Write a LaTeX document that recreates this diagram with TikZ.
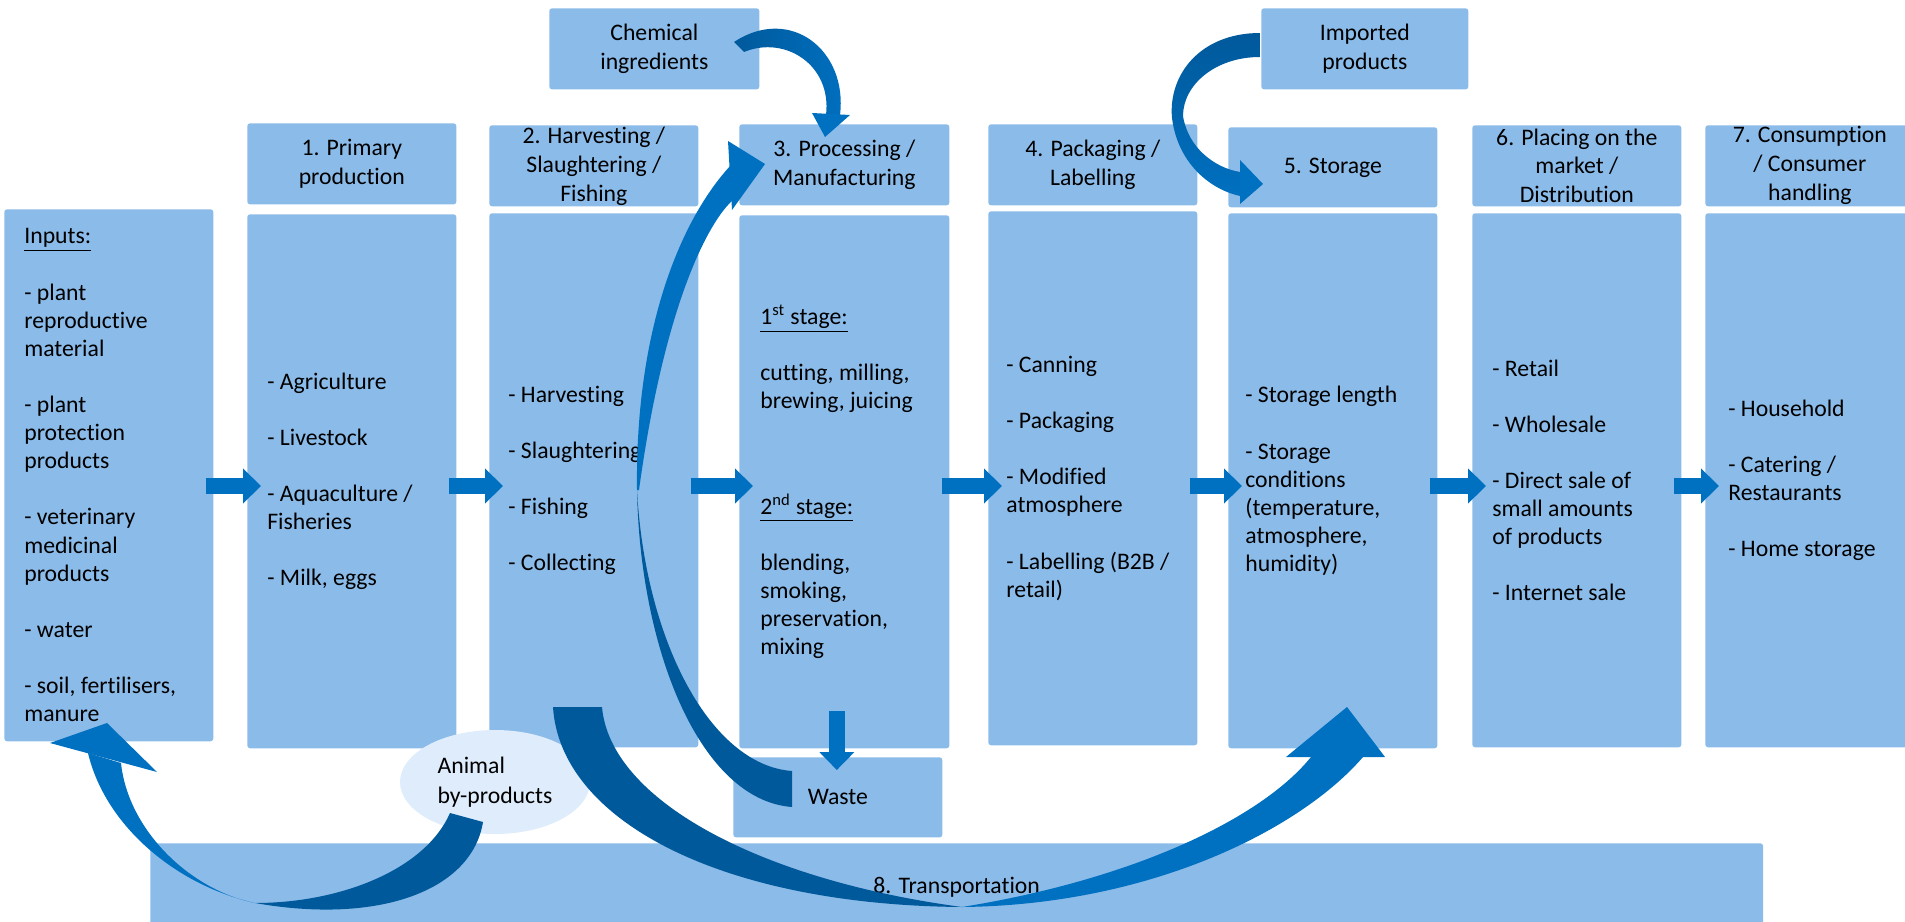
\documentclass[tikz,border=0pt]{standalone}
\usepackage{fontspec}
\setmainfont{Carlito}[Ligatures=NoCommon]
\usetikzlibrary{arrows.meta,calc,shapes.geometric}
\definecolor{boxblue}{RGB}{139,187,233}
\definecolor{palebox}{RGB}{222,236,251}
\definecolor{arrowdark}{RGB}{0,89,155}
\definecolor{arrowblue}{RGB}{0,112,192}
\tikzset{
    box/.style={fill=boxblue, rounded corners=1.5pt, anchor=north west, inner sep=0pt, align=center, font=\fontsize{13.5}{16.5}\selectfont},
    stagehead/.style={box, minimum width=4.18cm, minimum height=1.62cm},
    stagebody/.style={box, minimum width=4.18cm, minimum height=10.68cm},
    steplist/.style={anchor=west, inner sep=0pt, align=left, font=\fontsize{13.5}{16}\selectfont},
    flow/.style={arrowblue, line width=0.32cm, -{Triangle[width=0.68cm,length=0.36cm]}}
}

\begin{document}
\begin{tikzpicture}[x=0.02cm, y=-0.02cm]
    \useasboundingbox (0,0) rectangle (1905,922);
    
    \node [stagehead, minimum width=4.2cm] (chem) at (549,8) {Chemical\\ingredients};
    \node [stagehead, minimum width=4.14cm] (imp) at (1261,8) {Imported\\products};
    
    \node [stagehead] (h1) at (247,123) {1. Primary\\production};
    \node [stagehead] (h2) at (489,125) {2. Harvesting /\\Slaughtering /\\Fishing};
    \node [stagehead, minimum width=4.2cm] (h3) at (739,124) {3. Processing /\\Manufacturing};
    \node [stagehead] (h4) at (988,124) {4. Packaging /\\Labelling};
    \node [stagehead, minimum height=1.6cm] (h5) at (1228,127) {5. Storage};
    \node [stagehead] (h6) at (1472,125) {6. Placing on the\\market /\\Distribution};
    \node [stagehead] (h7) at (1705,125) {7. Consumption\\/ Consumer\\handling};
    
    \node [stagebody, minimum height=10.64cm] (in) at (4,209) {};
    \node [stagebody] (b1) at (247,214) {};
    \node [stagebody] (b2) at (489,213) {};
    \node [stagebody, minimum width=4.2cm, minimum height=10.66cm] (b3) at (739,215) {};
    \node [stagebody] (b4) at (988,211) {};
    \node [stagebody, minimum height=10.7cm] (b5) at (1228,213) {};
    \node [stagebody] (b6) at (1472,213) {};
    \node [stagebody] (b7) at (1705,213) {};
    \node [stagehead, minimum height=1.6cm] (waste) at (733,757) {Waste};
    \node [box, minimum width=32.26cm, minimum height=1.74cm] (trans) at (150,843) {8. Transportation};
    \node [ellipse, fill=palebox, minimum width=3.8cm, minimum height=2.08cm, inner sep=0pt, align=left, font=\fontsize{13.5}{17}\selectfont] (abp) at (495,782) {Animal\\by-products};
    
    \node [steplist] (tin) at ($(in.west)+(20,0)$) {\underline{Inputs:}\\[16pt] - plant\\reproductive\\material\\[16pt] - plant\\protection\\products\\[16pt] - veterinary\\medicinal\\products\\[16pt] - water\\[16pt] - soil, fertilisers,\\manure};
    \node [steplist] (t1) at ($(b1.west)+(20,0)$) {- Agriculture\\[16pt] - Livestock\\[16pt] - Aquaculture /\\Fisheries\\[16pt] - Milk, eggs};
    \node [steplist] (t2) at ($(b2.west)+(19,0)$) {- Harvesting\\[16pt] - Slaughtering\\[16pt] - Fishing\\[16pt] - Collecting};
    \node [steplist] (t3) at ($(b3.west)+(21,0)$) {\underline{1\textsuperscript{st} stage:}\\[16pt] cutting, milling,\\brewing, juicing\\[44pt] \underline{2\textsuperscript{nd} stage:}\\[16pt] blending,\\smoking,\\preservation,\\mixing};
    \node [steplist] (t4) at ($(b4.west)+(18,0)$) {- Canning\\[16pt] - Packaging\\[16pt] - Modified\\atmosphere\\[16pt] - Labelling (B2B /\\retail)};
    \node [steplist] (t5) at ($(b5.west)+(17,0)$) {- Storage length\\[16pt] - Storage\\conditions\\(temperature,\\atmosphere,\\humidity)};
    \node [steplist] (t6) at ($(b6.west)+(20,0)$) {- Retail\\[16pt] - Wholesale\\[16pt] - Direct sale of\\small amounts\\of products\\[16pt] - Internet sale};
    \node [steplist] (t7) at ($(b7.west)+(23,0)$) {- Household\\[16pt] - Catering /\\Restaurants\\[16pt] - Home storage};
    
    \coordinate (flowrow) at (0,486);
    \foreach \a/\b in {in/b1, b1/b2, b2/b3, b3/b4, b4/b5, b5/b6, b6/b7} {
        \draw [flow] ($(\a.east |- flowrow)+(-8,0)$) -- ($(\b.west |- flowrow)+(14,0)$);
    }
    \draw [flow] ($(waste.north)+(-1,-46)$) -- ($(waste.north)+(-1,13)$);
    
    \shade [left color=arrowdark, right color=arrowblue] (734,42) .. controls (790,5) and (848,50) .. (840,115) -- (826,115) .. controls (832,65) and (785,35) .. (744,52) -- cycle;
    \fill [arrowblue] (812,113) -- (850,115) -- (825,137) -- cycle;
    
    \shade [top color=arrowdark, bottom color=arrowblue] (1260,33) .. controls (1200,33) and (1168,75) .. (1172,118) .. controls (1178,165) and (1212,190) .. (1240,196) -- (1240,172) .. controls (1215,168) and (1188,148) .. (1183,116) .. controls (1183,85) and (1215,57) .. (1260,57) -- cycle;
    \fill [arrowblue] (1240,160) -- (1263,184) -- (1240,204) -- cycle;
    
    \fill [arrowdark] (792,771) -- (792,807) .. controls (700,800) and (640,650) .. (637,490) .. controls (645,640) and (710,765) .. (792,771) -- cycle;
    \fill [arrowblue] (637,490) .. controls (635,330) and (680,220) .. (731,165) -- (733,200) .. controls (710,220) and (665,300) .. (639,490) -- cycle;
    \fill [arrowblue] (728,141) -- (765,164) -- (732,210) -- cycle;
    
    \fill [arrowdark] (553,707) -- (602,707) .. controls (610,800) and (760,880) .. (962,907) .. controls (720,905) and (560,820) .. (553,707) -- cycle;
    \fill [arrowblue] (962,907) .. controls (1150,905) and (1300,830) .. (1363,757) -- (1311,757) .. controls (1260,820) and (1130,880) .. (962,907) -- cycle;
    \fill [arrowblue] (1286,757) -- (1347,707) -- (1385,757) -- cycle;
    
    \fill [arrowdark] (450,813) -- (483,822) .. controls (472,890) and (380,925) .. (255,903) .. controls (340,903) and (425,870) .. (450,813) -- cycle;
    \fill [arrowblue] (255,903) .. controls (175,885) and (105,825) .. (88,753) -- (121,763) .. controls (128,830) and (190,890) .. (255,903) -- cycle;
    \fill [arrowblue] (50,743) -- (107,723) -- (157,772) -- cycle;
    
\end{tikzpicture}
\end{document}
